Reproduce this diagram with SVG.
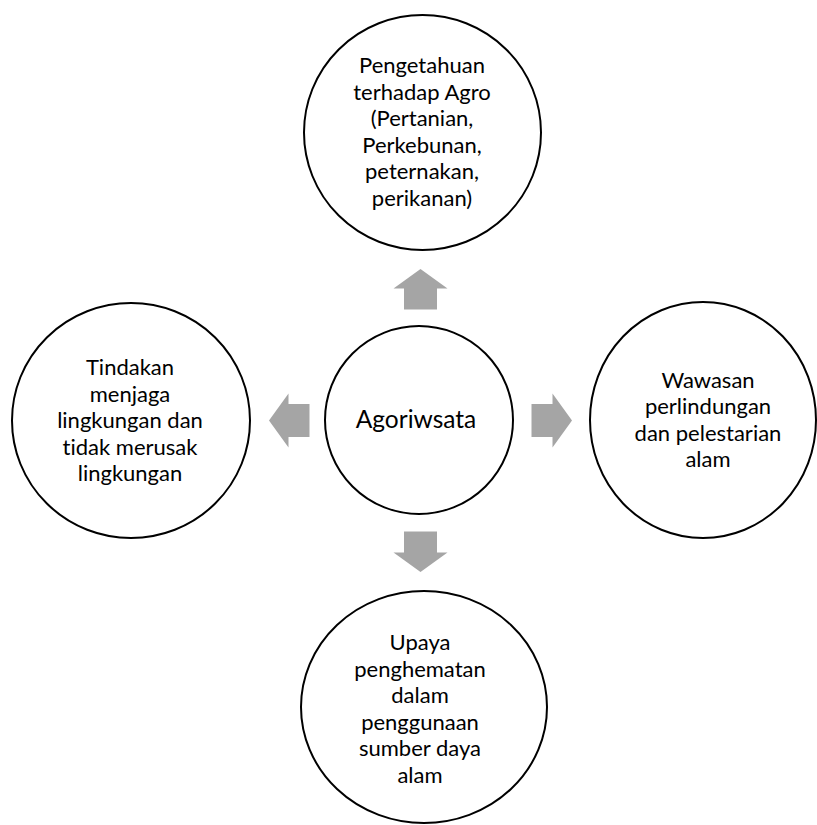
<svg xmlns="http://www.w3.org/2000/svg" xmlns:xlink="http://www.w3.org/1999/xlink" width="817" height="825" viewBox="0 0 817 825">
<style>
.node{fill:#fff;stroke:#000;stroke-width:2}
.t{font-family:Lato,"Liberation Sans",sans-serif;font-size:22px;fill:#000;text-anchor:middle;font-variant-ligatures:none}
.tc{font-size:24.5px}
.arr{fill:#A5A5A5}
</style>
<defs>
<path id="arrowUp" class="arr" d="M420.5,269 L447.5,288.5 L437,288.5 L437,309.5 L404,309.5 L404,288.5 L393.5,288.5 Z"/>
</defs>
<rect width="817" height="825" fill="#fff"/>
<g id="connectors">
<use xlink:href="#arrowUp"/>
<use xlink:href="#arrowUp" transform="rotate(90 420.5 420.5)"/>
<use xlink:href="#arrowUp" transform="rotate(180 420.5 420.5)"/>
<use xlink:href="#arrowUp" transform="rotate(270 420.5 420.5)"/>
</g>
<g id="node-center">
<circle class="node" cx="419" cy="420" r="94"/>
<text class="t tc" x="416" y="428">Agoriwsata</text>
</g>
<g id="node-top">
<ellipse class="node" cx="422.5" cy="132.5" rx="118.5" ry="117.5"/>
<text class="t" x="422" y="73">Pengetahuan</text>
<text class="t" x="422" y="99.5">terhadap Agro</text>
<text class="t" x="422" y="126">(Pertanian,</text>
<text class="t" x="422" y="152.5">Perkebunan,</text>
<text class="t" x="422" y="179">peternakan,</text>
<text class="t" x="422" y="205.5">perikanan)</text>
</g>
<g id="node-left">
<ellipse class="node" cx="131" cy="420.5" rx="119" ry="117.5"/>
<text class="t" x="130" y="375">Tindakan</text>
<text class="t" x="130" y="401.5">menjaga</text>
<text class="t" x="130" y="428">lingkungan dan</text>
<text class="t" x="130" y="454.5">tidak merusak</text>
<text class="t" x="130" y="481">lingkungan</text>
</g>
<g id="node-right">
<ellipse class="node" cx="703" cy="420" rx="113" ry="118"/>
<text class="t" x="708" y="387.5">Wawasan</text>
<text class="t" x="708" y="414">perlindungan</text>
<text class="t" x="708" y="440.5">dan pelestarian</text>
<text class="t" x="708" y="467">alam</text>
</g>
<g id="node-bottom">
<ellipse class="node" cx="424" cy="707" rx="123" ry="116"/>
<text class="t" x="420" y="650">Upaya</text>
<text class="t" x="420" y="676.5">penghematan</text>
<text class="t" x="420" y="703">dalam</text>
<text class="t" x="420" y="729.5">penggunaan</text>
<text class="t" x="420" y="756">sumber daya</text>
<text class="t" x="420" y="782.5">alam</text>
</g>
</svg>
